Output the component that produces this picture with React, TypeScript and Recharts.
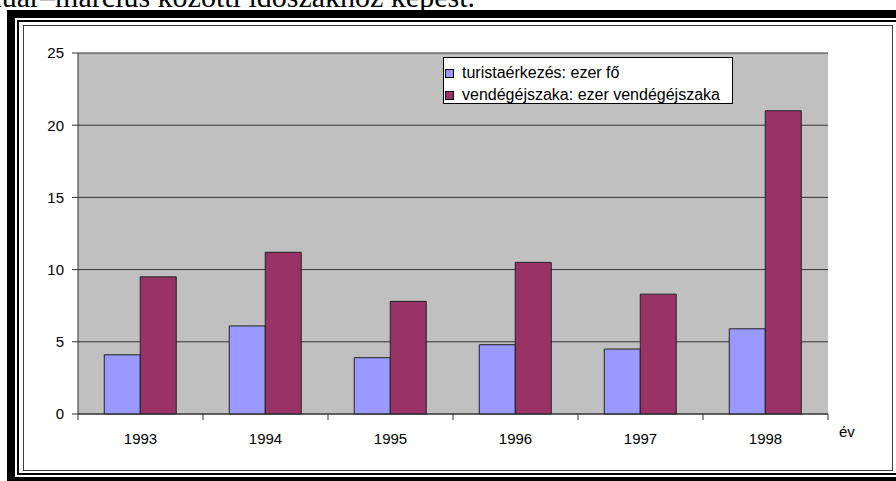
import { BarChart, Bar, XAxis, YAxis, CartesianGrid, Legend } from 'recharts'

const years = ['1993', '1994', '1995', '1996', '1997', '1998']
const arrivals = [4.1, 6.1, 3.9, 4.8, 4.5, 5.9]
const nights = [9.5, 11.2, 7.8, 10.5, 8.3, 21.0]
const yTicks = [0, 5, 10, 15, 20, 25]

const SERIES = [
  { key: 'arrivals', name: 'turistaérkezés: ezer fő', color: '#9999FF' },
  { key: 'nights', name: 'vendégéjszaka: ezer vendégéjszaka', color: '#993366' },
]

const data = years.map((year, i) => ({ year, arrivals: arrivals[i], nights: nights[i] }))

const FONT = '"Liberation Sans", Arial, sans-serif'
const CHART_W = 868
const CHART_H = 444
const MARGIN = { top: 27, right: 64, left: 14, bottom: 26 }
const Y_AXIS_W = 40
const PLOT_W = CHART_W - MARGIN.left - MARGIN.right - Y_AXIS_W

// category label plus tick marks on the category boundaries, like Excel does
// eslint-disable-next-line @typescript-eslint/no-explicit-any
function YearTick(props: any) {
  const { x, y, payload, index, visibleTicksCount } = props
  const count = visibleTicksCount || years.length
  const half = PLOT_W / count / 2
  return (
    <g>
      <line x1={x - half} y1={y} x2={x - half} y2={y + 6} stroke="#333" />
      {index === count - 1 && <line x1={x + half} y1={y} x2={x + half} y2={y + 6} stroke="#333" />}
      <text x={x} y={y + 30} textAnchor="middle" fontFamily={FONT} fontSize={15} fill="#000">
        {payload.value}
      </text>
    </g>
  )
}

function LegendBox() {
  return (
    <div
      style={{
        width: 290,
        height: 47,
        border: '1px solid #000',
        background: '#fff',
        fontFamily: FONT,
        fontSize: 16,
        color: '#000',
        paddingTop: 4,
        boxSizing: 'border-box',
      }}
    >
      {SERIES.map((s) => (
        <div key={s.key} style={{ display: 'flex', alignItems: 'center', height: 22, paddingLeft: 1 }}>
          <span
            style={{
              display: 'inline-block',
              width: 7,
              height: 7,
              background: s.color,
              border: '1px solid #000',
              marginRight: 8,
            }}
          />
          <span>{s.name}</span>
        </div>
      ))}
    </div>
  )
}

export default function App() {
  return (
    <div style={{ position: 'absolute', left: 0, top: 0, width: 896, height: 481, overflow: 'hidden', background: '#fff' }}>
      <svg width={896} height={12} style={{ position: 'absolute', left: 0, top: 0 }}>
        <text x={475} y={7} textAnchor="end" fontFamily='"Liberation Serif", "Times New Roman", serif' fontSize={30} fill="#000">
          január–március közötti időszakhoz képest.
        </text>
      </svg>
      {/* outer frame lines */}
      <div style={{ position: 'absolute', left: 7, top: 10, width: 900, height: 459, border: '8px solid #000' }} />
      <div style={{ position: 'absolute', left: 17, top: 20, width: 900, height: 451, border: '2px solid #000' }} />
      <div style={{ position: 'absolute', left: 23, top: 25, width: CHART_W, height: CHART_H, border: '1px solid #404040', background: '#fff' }} />
      <div style={{ position: 'absolute', left: 24, top: 26 }}>
        <BarChart
          width={CHART_W}
          height={CHART_H}
          data={data}
          margin={MARGIN}
          barCategoryGap="21%"
          barGap={0}
        >
          <CartesianGrid fill="#C0C0C0" stroke="#333" vertical={false} />
          <XAxis
            dataKey="year"
            height={30}
            tickLine={false}
            stroke="#333"
            tickSize={0}
            tickMargin={0}
            tick={<YearTick />}
            label={{ value: 'év', position: 'right', offset: 11, fontSize: 15, fill: '#000', fontFamily: FONT, dy: 3 }}
          />
          <XAxis xAxisId="top" orientation="top" height={0} tick={false} tickLine={false} stroke="#808080" />
          <YAxis
            domain={[0, 25]}
            ticks={yTicks}
            width={Y_AXIS_W}
            tickSize={6}
            tickMargin={8}
            stroke="#333"
            tick={{ fontSize: 15, fill: '#000', fontFamily: FONT }}
          />
          <YAxis yAxisId="right" orientation="right" width={0} tick={false} tickLine={false} stroke="#808080" />
          <Legend
            layout="vertical"
            align="center"
            verticalAlign="middle"
            content={<LegendBox />}
            wrapperStyle={{ position: 'absolute', left: 419, top: 31, width: 290 }}
          />
          {SERIES.map((s) => (
            <Bar
              key={s.key}
              dataKey={s.key}
              name={s.name}
              fill={s.color}
              stroke="#222"
              strokeWidth={1}
              isAnimationActive={false}
            />
          ))}
        </BarChart>
      </div>
    </div>
  )
}
